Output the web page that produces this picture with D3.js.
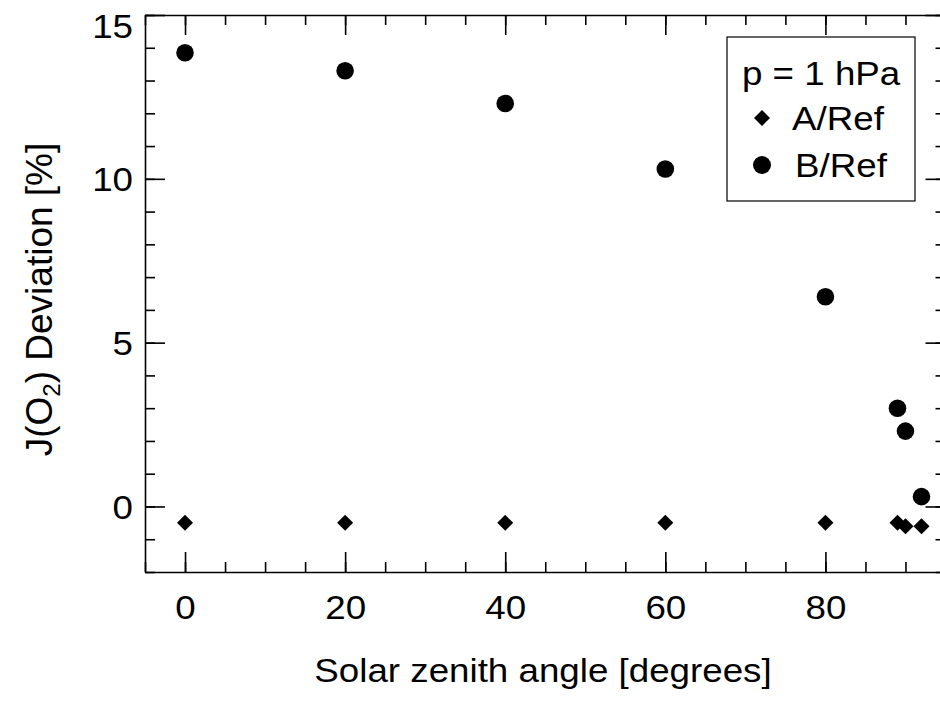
<!DOCTYPE html>
<html>
<head>
<meta charset="utf-8">
<script src="https://cdn.jsdelivr.net/npm/d3@7"></script>
<style>
body { margin: 0; background: #fff; }
svg { font-family: "Liberation Sans", Arial, sans-serif; }
</style>
</head>
<body>
<svg id="plot" width="940" height="702"></svg>
<script>
// data
var sza = [0, 20, 40, 60, 80, 89, 90, 92];
var aRef = [-0.5, -0.5, -0.5, -0.5, -0.5, -0.5, -0.6, -0.6];
var bRef = [13.85, 13.3, 12.3, 10.3, 6.4, 3.0, 2.3, 0.3];
var xTicks = [0, 20, 40, 60, 80];
var yTicks = [0, 5, 10, 15];

var svg = d3.select('#plot');
var pLeft = 145, pRight = 945.5, pTop = 15, pBottom = 572;

var xs = d3.scaleLinear().domain([-5, 95]).range([pLeft, pRight]);
var ys = d3.scaleLinear().domain([-2, 15]).range([pBottom, pTop]);

var fs = 34;

function styleAxis(g) {
    g.selectAll('path, line').attr('stroke', '#000').attr('stroke-width', 1.6);
    g.selectAll('text').attr('font-size', fs).attr('fill', '#000').attr('font-family', '"Liberation Sans", Arial, sans-serif');
}

// bottom
var xMinor = d3.range(-5, 96, 5);
svg.append('g').attr('transform', 'translate(0,' + pBottom + ')')
    .call(d3.axisBottom(xs).tickValues(xMinor).tickSize(-10).tickSizeOuter(0).tickFormat(''))
    .call(styleAxis);
svg.append('g').attr('transform', 'translate(0,' + pBottom + ')')
    .call(d3.axisBottom(xs).tickValues(xTicks).tickSize(-20).tickSizeOuter(0).tickPadding(0))
    .call(styleAxis)
    .call(function(g) {
        g.select('.domain').remove();
        g.selectAll('text').attr('dy', null).attr('y', 47);
    });
// top
svg.append('g').attr('transform', 'translate(0,' + pTop + ')')
    .call(d3.axisTop(xs).tickValues(xMinor).tickSize(-10).tickSizeOuter(0).tickFormat(''))
    .call(styleAxis);
svg.append('g').attr('transform', 'translate(0,' + pTop + ')')
    .call(d3.axisTop(xs).tickValues(xTicks).tickSize(-20).tickSizeOuter(0).tickFormat(''))
    .call(styleAxis)
    .call(function(g) { g.select('.domain').remove(); });

// left
var yMinor = d3.range(-2, 16, 1);
svg.append('g').attr('transform', 'translate(' + pLeft + ',0)')
    .call(d3.axisLeft(ys).tickValues(yMinor).tickSize(-10).tickSizeOuter(0).tickFormat(''))
    .call(styleAxis);
svg.append('g').attr('transform', 'translate(' + pLeft + ',0)')
    .call(d3.axisLeft(ys).tickValues(yTicks).tickSize(-20).tickSizeOuter(0).tickPadding(12))
    .call(styleAxis)
    .call(function(g) {
        g.select('.domain').remove();
        // top label sits a little lower so it stays inside the page
        g.selectAll('text').attr('dy', null).attr('y', function(d) { return d === 15 ? 22 : 12; });
    });
// right
svg.append('g').attr('transform', 'translate(' + pRight + ',0)')
    .call(d3.axisRight(ys).tickValues(yMinor).tickSize(-10).tickSizeOuter(0).tickFormat(''))
    .call(styleAxis);
svg.append('g').attr('transform', 'translate(' + pRight + ',0)')
    .call(d3.axisRight(ys).tickValues(yTicks).tickSize(-20).tickSizeOuter(0).tickFormat(''))
    .call(styleAxis)
    .call(function(g) { g.select('.domain').remove(); });

// points
var diamond = d3.symbol().type(d3.symbolSquare).size(128);
svg.append('g').selectAll('path')
    .data(sza)
    .enter()
    .append('path')
        .attr('d', diamond)
        .attr('transform', function(d, i) { return 'translate(' + xs(d) + ',' + ys(aRef[i]) + ') rotate(45)'; })
        .attr('fill', '#000');

svg.append('g').selectAll('circle')
    .data(sza)
    .enter()
    .append('circle')
        .attr('cx', function(d) { return xs(d); })
        .attr('cy', function(d, i) { return ys(bRef[i]); })
        .attr('r', 8.8)
        .attr('fill', '#000');

// axis titles
svg.append('text')
    .attr('x', 543)
    .attr('y', 682)
    .attr('text-anchor', 'middle')
    .attr('font-size', fs)
    .text('Solar zenith angle [degrees]');

var yl = svg.append('text')
    .attr('transform', 'translate(52,' + ((pTop + pBottom) / 2 + 6) + ') rotate(-90)')
    .attr('text-anchor', 'middle')
    .attr('font-size', 37);
yl.append('tspan').text('J(O');
yl.append('tspan').text('2').attr('font-size', 24).attr('dy', 8);
yl.append('tspan').text(') Deviation [%]').attr('dy', -8);

// legend
var lg = svg.append('g');
lg.append('rect')
    .attr('x', 727).attr('y', 37)
    .attr('width', 188).attr('height', 164)
    .attr('fill', '#fff').attr('stroke', '#000').attr('stroke-width', 1.2);
lg.append('text').attr('x', 742).attr('y', 85).attr('font-size', fs).text('p = 1 hPa');
lg.append('path')
    .attr('d', d3.symbol().type(d3.symbolSquare).size(128))
    .attr('transform', 'translate(762,118) rotate(45)')
    .attr('fill', '#000');
lg.append('text').attr('x', 792).attr('y', 130).attr('font-size', fs).text('A/Ref');
lg.append('circle').attr('cx', 762).attr('cy', 165).attr('r', 9).attr('fill', '#000');
lg.append('text').attr('x', 795).attr('y', 177).attr('font-size', fs).text('B/Ref');

// glyphs in the reference are a bit wider than Liberation Sans
svg.selectAll('text').each(function() {
    var t = d3.select(this);
    if (t.selectAll('tspan').size() > 0) return;
    var len = this.getComputedTextLength();
    if (len > 0) t.attr('textLength', len * 1.08).attr('lengthAdjust', 'spacingAndGlyphs');
});
</script>
</body>
</html>
